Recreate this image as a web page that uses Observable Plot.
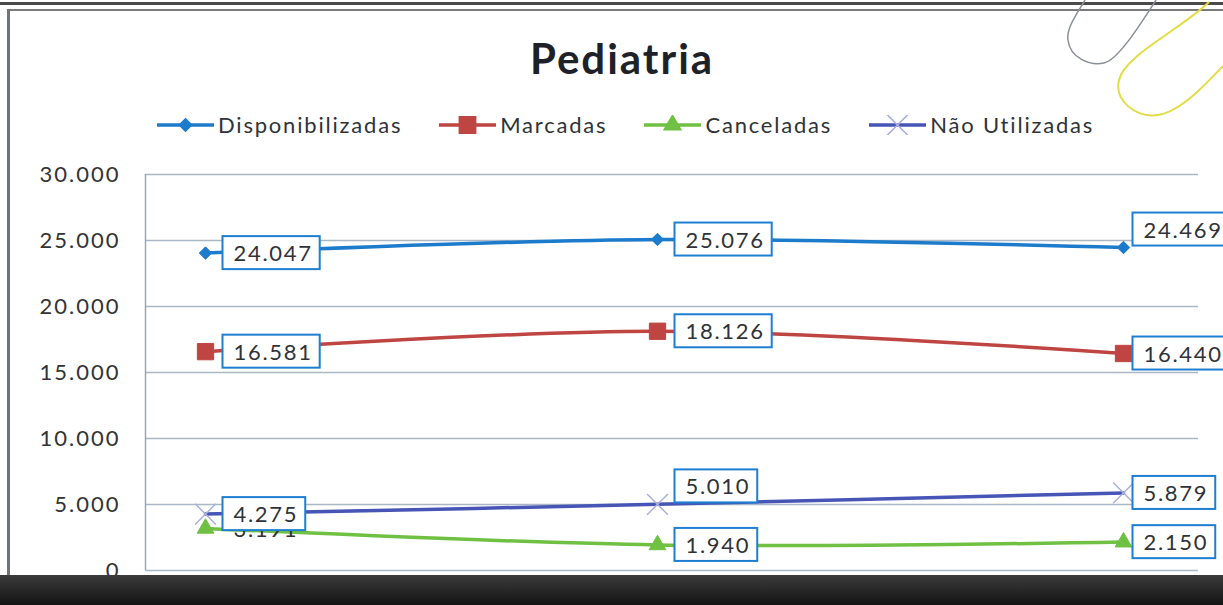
<!DOCTYPE html>
<html><head><meta charset="utf-8">
<script src="https://cdn.jsdelivr.net/npm/d3@7"></script>
<script src="https://cdn.jsdelivr.net/npm/@observablehq/plot@0.6"></script>
<style>
body{margin:0;background:#fff;font-family:Lato,"Open Sans",sans-serif;}
#page{position:relative;width:1223px;height:605px;overflow:hidden;background:#fff;}
#title{position:absolute;left:0;width:1244px;top:33px;text-align:center;font-weight:bold;font-size:42px;letter-spacing:2px;color:#1e2228;line-height:50px;}
#legend{position:absolute;left:157px;top:111px;display:flex;align-items:center;gap:37px;font-size:22px;letter-spacing:1.8px;color:#2e3338;}
#legend .item{display:flex;align-items:center;}
#legend .item span{margin-left:4px;line-height:28px;}
#chart{position:absolute;left:0;top:150px;}
#chart svg text{letter-spacing:1.7px;}
#chart g[aria-label="y-axis tick label"] text{letter-spacing:2px;}
.deco{position:absolute;}
</style></head>
<body>
<div id="page">
  <div class="deco" style="left:0;right:0;top:2px;height:3px;background:#4a4a4a"></div>
  <div class="deco" style="left:8px;right:0;top:9px;height:2px;background:#7a7a7a"></div>
  <div class="deco" style="left:7px;top:9px;width:3px;height:568px;background:#6f7478"></div>
  <div id="title">Pediatria</div>
  <div id="legend"></div>
  <div id="chart"></div>
  <div class="deco" style="left:0;right:0;top:575px;height:30px;background:linear-gradient(#3b3b3b,#141414)"></div>
  <svg class="deco" style="left:0;top:0" width="1223" height="605">
    <path d="M1085,0 C1078,12 1066,28 1068,40 C1070,58 1090,66 1104,63 C1118,60 1140,25 1156,0" fill="none" stroke="#8a8f98" stroke-width="1.5"/>
    <path d="M1209,2 C1180,30 1125,55 1119,80 C1114,100 1135,118 1158,115 C1180,112 1205,85 1223,66" fill="none" stroke="#e2dc45" stroke-width="2"/>
  </svg>
</div>
<script>
// ---- data ----
const periods = ["Período 1", "Período 2", "Período 3"];
const seriesNames = ["Disponibilizadas", "Marcadas", "Canceladas", "Não Utilizadas"];
const disponibilizadas = [24047, 25076, 24469];
const marcadas = [16581, 18126, 16440];
const canceladas = [3191, 1940, 2150];
const naoUtilizadas = [4275, 5010, 5879];
const yTicks = [0, 5000, 10000, 15000, 20000, 25000, 30000];

// ---- styling ----
const colors = ["#1d7bcc", "#bf4543", "#6fc043", "#4756b6"];
const markerFill = ["#1d7bcc", "#bf4543", "#6fc043", "none"];
const markerStroke = ["#1d7bcc", "#bf4543", "#6fc043", "#a9b0dc"];
const symbols = ["diamond2", "square", "triangle", "times"];
const symbolR = [5.6, 9.2, 6.2, 9.5];
const d3Symbols = [d3.symbolDiamond2, d3.symbolSquare, d3.symbolTriangle, d3.symbolTimes];
const BOXED_FILL = "#2f3338", PLAIN_FILL = "#2f3339";

const valuesBySeries = [disponibilizadas, marcadas, canceladas, naoUtilizadas];
const rows = [];
seriesNames.forEach((s, si) => valuesBySeries[si].forEach((v, i) => rows.push({series: s, si, i, period: periods[i], value: v})));

const loc = d3.formatLocale({decimal: ",", thousands: ".", grouping: [3], currency: ["", ""]});
const fmt = loc.format(",d");

// label placement exceptions (layout)
const raised = new Set(["Disponibilizadas|2", "Não Utilizadas|1"]);
const unboxed = new Set(["Canceladas|0"]);
const key = d => d.series + "|" + d.i;

// legend
const legend = document.getElementById("legend");
seriesNames.forEach((s, si) => {
  const item = document.createElement("div");
  item.className = "item";
  const sym = d3.symbol(d3Symbols[si], Math.PI * symbolR[si] * symbolR[si])();
  item.innerHTML = `<svg width="57" height="20"><line x1="0" x2="57" y1="10" y2="10" stroke="${colors[si]}" stroke-width="3.5"/>` +
    `<path transform="translate(28.5,10)" d="${sym}" fill="${markerFill[si]}" stroke="${markerStroke[si]}" stroke-width="1.5"/></svg><span>${s}</span>`;
  legend.appendChild(item);
});

// x scale: category index, slightly uneven spacing as in the photographed original
const xEdge = -0.133;
const marks = [
  Plot.gridY(yTicks, {stroke: "#aab7c4", strokeOpacity: 1, strokeWidth: 1.5}),
  Plot.ruleX([xEdge], {stroke: "#9aa8b6", strokeWidth: 1.5}),
  Plot.axisY({ticks: yTicks, tickFormat: fmt, tickSize: 0, tickPadding: 25, fontSize: 22, label: null, fill: "#333"})
];
seriesNames.forEach((s, si) => {
  const data = rows.filter(d => d.series === s);
  marks.push(Plot.line(data, {x: "i", y: "value", stroke: colors[si], strokeWidth: 3.5, curve: "catmull-rom"}));
});
seriesNames.forEach((s, si) => {
  const data = rows.filter(d => d.series === s);
  marks.push(Plot.dot(data, {x: "i", y: "value", symbol: symbols[si], r: symbolR[si],
    fill: markerFill[si], stroke: markerStroke[si], strokeWidth: si === 3 ? 1.5 : 1}));
});
seriesNames.forEach((s, si) => {
  const data = rows.filter(d => d.series === s);
  const last = periods.length - 1;
  const groups = [
    [data.filter(d => unboxed.has(key(d))), PLAIN_FILL, 2, 28],
    [data.filter(d => !raised.has(key(d)) && !unboxed.has(key(d)) && d.i < last), BOXED_FILL, 1, 28],
    [data.filter(d => !raised.has(key(d)) && !unboxed.has(key(d)) && d.i === last), BOXED_FILL, 1, 20],
    [data.filter(d => raised.has(key(d)) && d.i < last), BOXED_FILL, -17, 28],
    [data.filter(d => raised.has(key(d)) && d.i === last), BOXED_FILL, -17, 20]
  ];
  for (const [subset, fill, dy, dx] of groups) {
    if (!subset.length) continue;
    marks.push(Plot.text(subset, {x: "i", y: "value", text: d => fmt(d.value), textAnchor: "start", fontSize: 22, fill, dx, dy}));
  }
});

const plot = Plot.plot({
  width: 1223, height: 450,
  marginLeft: 145, marginRight: 25, marginTop: 24, marginBottom: 30,
  style: {fontFamily: "Lato, 'Open Sans', sans-serif", background: "transparent", overflow: "visible"},
  x: {type: "linear", domain: [xEdge, 0, 1, 2], range: [145, 205, 657, 1123], axis: null},
  y: {domain: [0, 30000], axis: null},
  marks
});
document.getElementById("chart").append(plot);

const boxedTexts = [];
plot.querySelectorAll("g").forEach(g => {
  if ((g.getAttribute("fill") || "").toLowerCase() === BOXED_FILL) {
    g.querySelectorAll("text").forEach(t => boxedTexts.push(t));
  }
});
boxedTexts.forEach(t => {
  const b = t.getBBox();
  const r = document.createElementNS("http://www.w3.org/2000/svg", "rect");
  r.setAttribute("x", b.x - 11);
  r.setAttribute("y", b.y - 3);
  r.setAttribute("width", b.width + 18);
  r.setAttribute("height", b.height + 6);
  r.setAttribute("fill", "#fff");
  r.setAttribute("stroke", "#1e7fd2");
  r.setAttribute("stroke-width", "2");
  const tr = t.getAttribute("transform");
  if (tr) r.setAttribute("transform", tr);
  t.parentNode.insertBefore(r, t);
});
</script>
</body></html>
